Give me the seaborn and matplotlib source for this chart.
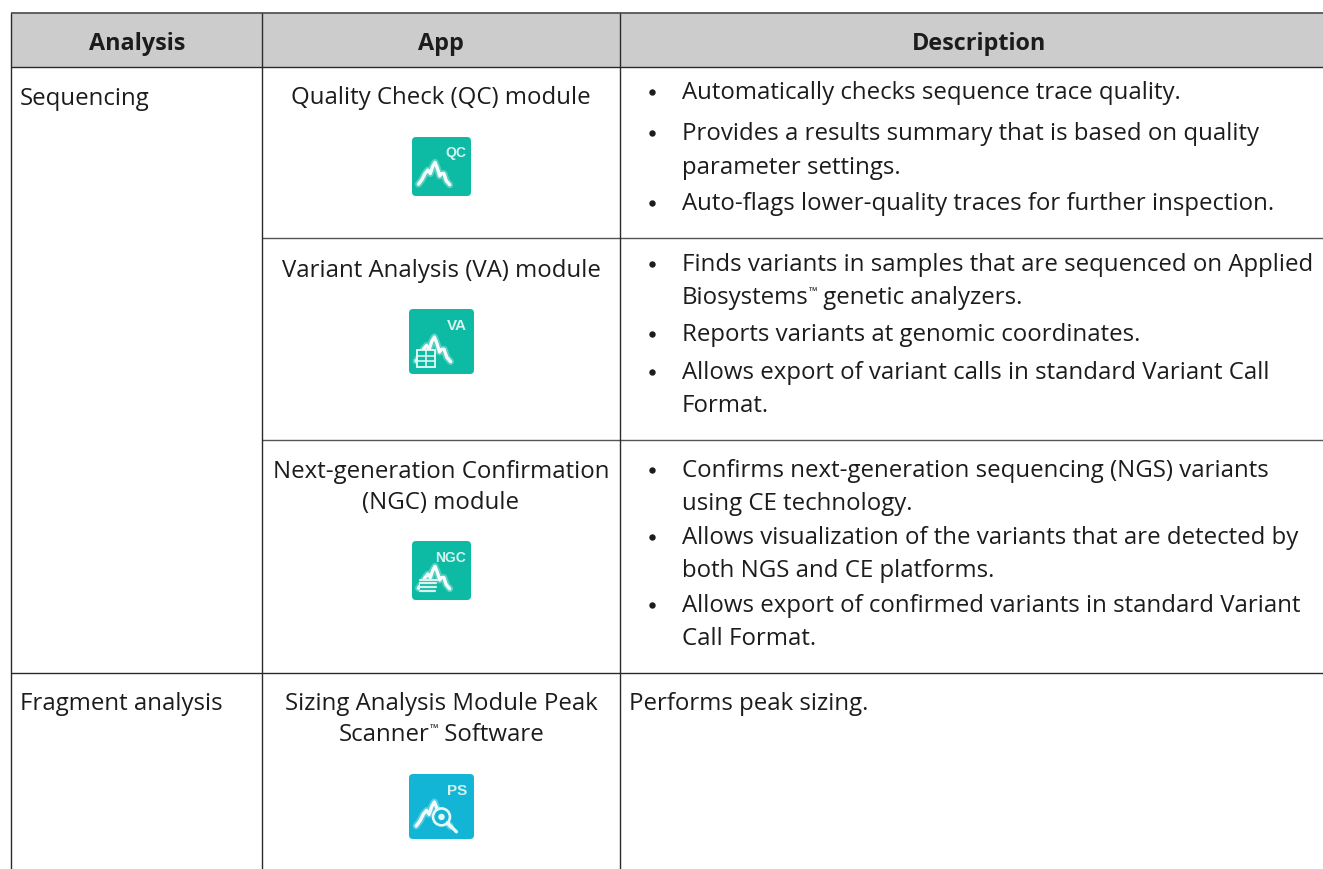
import matplotlib
matplotlib.use("Agg")
import matplotlib.pyplot as plt
import seaborn as sns
from matplotlib.patches import FancyBboxPatch, Circle, Rectangle

# ---- content ----
headers = ["Analysis", "App", "Description"]
analysis_labels = ["Sequencing", "Fragment analysis"]
app_lines = ["Quality Check (QC) module", "Variant Analysis (VA) module",
             "Next-generation Confirmation", "(NGC) module",
             "Sizing Analysis Module Peak", "Scanner\u2122 Software"]
qc_desc = ["Automatically checks sequence trace quality.",
           "Provides a results summary that is based on quality",
           "parameter settings.",
           "Auto-flags lower-quality traces for further inspection."]
va_desc = ["Finds variants in samples that are sequenced on Applied",
           "Biosystems\u2122 genetic analyzers.",
           "Reports variants at genomic coordinates.",
           "Allows export of variant calls in standard Variant Call",
           "Format."]
ngc_desc = ["Confirms next-generation sequencing (NGS) variants",
            "using CE technology.",
            "Allows visualization of the variants that are detected by",
            "both NGS and CE platforms.",
            "Allows export of confirmed variants in standard Variant",
            "Call Format."]
frag_desc = "Performs peak sizing."
icon_labels = ["QC", "VA", "NGC", "PS"]
peak_x = [0.11, 0.17, 0.22, 0.27, 0.31, 0.35, 0.39, 0.43, 0.47, 0.50, 0.54, 0.58, 0.64]
peak_y = [0.80, 0.72, 0.62, 0.56, 0.62, 0.50, 0.43, 0.53, 0.66, 0.62, 0.62, 0.74, 0.81]

# ---- style ----
sns.set_theme(style="white")
plt.rcParams['font.family'] = ['Open Sans', 'DejaVu Sans']
INK = "#1c1c1c"
RULE = "#2a2a2a"
FS = 17.25

fig, ax = plt.subplots(figsize=(13.23, 8.69), dpi=100)
ax.set_position([0, 0, 1, 1])
ax.set_xlim(0, 1323)
ax.set_ylim(869, 0)
ax.axis("off")
renderer = fig.canvas.get_renderer()

# header band
ax.add_patch(Rectangle((11, 13), 1312, 54, fc="#cccccc", ec="none", zorder=0))

def hline(y, x0, x1, c=RULE, lw=1.0):
    ax.plot([x0, x1], [y, y], color=c, lw=lw, solid_capstyle="butt")

def vline(x, y0, y1):
    ax.plot([x, x], [y0, y1], color=RULE, lw=1.0, solid_capstyle="butt")

hline(13, 11, 1323, "#555555", 1.3)
hline(67, 11, 1323)
hline(238, 262, 1323, "#555555")
hline(440, 262, 1323, "#555555")
hline(673, 11, 1323)
vline(11, 13, 869)
vline(262, 13, 869)
vline(620, 13, 869)

def width(s, fs):
    t = ax.text(0, 0, s, fontsize=fs)
    w = t.get_window_extent(renderer).width
    t.remove()
    return w

def txt(x, y, s, ha="left", weight="normal"):
    if "\u2122" not in s:
        ax.text(x, y, s, ha=ha, va="baseline", fontsize=FS, color=INK, fontweight=weight)
        return
    # the trade mark sign sits small and raised, as a superscript
    head, tail = s.split("\u2122")
    w_head, w_tm, w_tail = width(head, FS), width("\u2122", 8), width(tail.replace(" ", "\u00a0"), FS)
    x0 = x - (w_head + w_tm + w_tail) / 2 if ha == "center" else x
    ax.text(x0, y, head, ha="left", va="baseline", fontsize=FS, color=INK)
    ax.text(x0 + w_head, y - 9, "\u2122", ha="left", va="baseline", fontsize=8, color=INK)
    ax.text(x0 + w_head + w_tm, y, tail.replace(" ", "\u00a0"), ha="left", va="baseline",
            fontsize=FS, color=INK)

# header
for x, s in zip([137, 441, 979], headers):
    ax.text(x, 50, s, ha="center", va="baseline", fontsize=16.8, color=INK, fontweight="bold")

# first column
txt(20, 105, analysis_labels[0])
txt(20, 710, analysis_labels[1])

# app column
for y, s in zip([104, 277, 478, 509, 710, 741], app_lines):
    txt(441, y, s, "center")

# description column
def desc(lines, ys, starts):
    for i, (y, s) in enumerate(zip(ys, lines)):
        if i in starts:
            ax.plot([652], [y - 7], marker="o", ms=4.6, color=INK, mew=0)
        txt(682, y, s)

desc(qc_desc, [99, 140, 174, 210], {0, 1, 3})
desc(va_desc, [271, 304, 341, 379, 412], {0, 2, 3})
desc(ngc_desc, [477, 510, 544, 577, 612, 645], {0, 2, 4})
txt(629, 710, frag_desc)

# icons
def icon(x, y, size, label, color, kind, fs, rx_lab, base):
    ax.add_patch(FancyBboxPatch((x + 3, y + 3), size - 6, size - 6,
                                boxstyle="round,pad=3,rounding_size=4",
                                fc=color, ec="none", zorder=2))
    px = [x + p * size for p in peak_x]
    py = [y + p * size for p in peak_y]
    sns.lineplot(x=px, y=py, ax=ax, color="white", lw=5.0, sort=False, estimator=None,
                 alpha=0.3, zorder=3, legend=False)
    sns.lineplot(x=px, y=py, ax=ax, color="white", lw=2.4, sort=False, estimator=None,
                 alpha=0.95, zorder=3, legend=False)
    ax.text(x + size * rx_lab, y + size * base, label, ha="right", va="baseline", color="#d8f3ee",
            fontsize=fs, fontweight="bold", family="Liberation Sans", zorder=3)
    if kind == "table":
        rx, ry, rw, rh = x + size * 0.12, y + size * 0.63, size * 0.28, size * 0.26
        ax.add_patch(Rectangle((rx, ry), rw, rh, fc=color, ec="#e8faf6", lw=1.3, zorder=4))
        for f in (1 / 3, 2 / 3):
            ax.plot([rx, rx + rw], [ry + rh * f] * 2, color="#e8faf6", lw=1.1, zorder=4)
        ax.plot([rx + rw / 2] * 2, [ry, ry + rh], color="#e8faf6", lw=1.1, zorder=4)
    elif kind == "stack":
        rx, ry, rw = x + size * 0.14, y + size * 0.66, size * 0.28
        ax.add_patch(Rectangle((rx, ry - 1), rw, size * 0.22, fc=color, ec="none", zorder=4))
        for i in range(4):
            ax.plot([rx, rx + rw - i * 0.5], [ry + i * size * 0.06] * 2,
                    color="#d8f3ee", lw=1.6, zorder=4)
    elif kind == "lens":
        cx, cy = x + size * 0.50, y + size * 0.66
        ax.add_patch(Circle((cx, cy), size * 0.13, fc=color, ec="#e8faf6", lw=1.9, zorder=4))
        ax.add_patch(Circle((cx, cy), size * 0.05, fc="#e8faf6", ec="none", zorder=4))
        ax.plot([cx + size * 0.09, cx + size * 0.23], [cy + size * 0.09, cy + size * 0.23],
                color="#e8faf6", lw=2.4, zorder=4)

TEAL = "#0dbba5"
icon(412, 137, 59, icon_labels[0], TEAL, "peak", 10, 0.92, 0.34)
icon(409, 309, 65, icon_labels[1], TEAL, "table", 11, 0.89, 0.32)
icon(412, 541, 59, icon_labels[2], TEAL, "stack", 10, 0.92, 0.36)
icon(409, 774, 65, icon_labels[3], "#12b5d6", "lens", 11, 0.89, 0.32)

fig.savefig("out.png", dpi=100)
